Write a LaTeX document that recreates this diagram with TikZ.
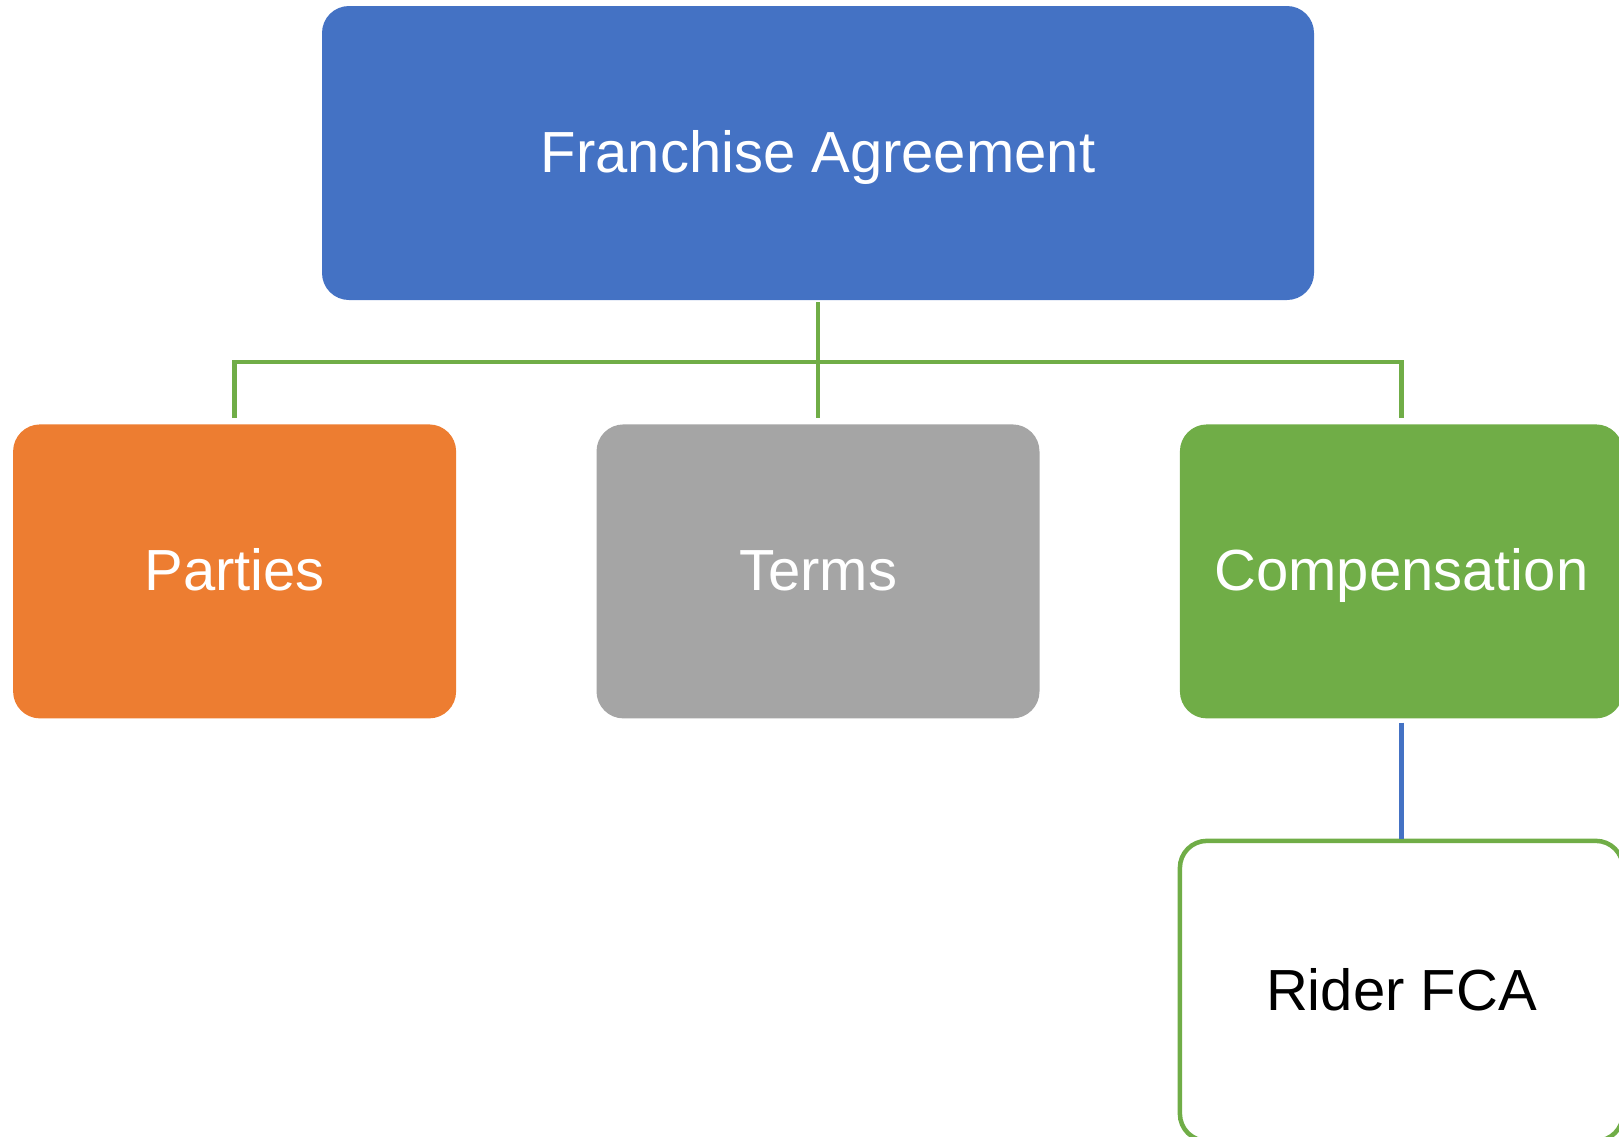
\documentclass[tikz,border=0pt]{standalone}
\usepackage{fontspec}
\setmainfont{Liberation Sans}
\usetikzlibrary{positioning}
\definecolor{fblue}{HTML}{4472C4}
\definecolor{forange}{HTML}{ED7D31}
\definecolor{fgray}{HTML}{A5A5A5}
\definecolor{fgreen}{HTML}{70AD47}
\tikzstyle{head} = [rectangle, rounded corners=27pt, minimum width=992pt, minimum height=294pt, text=white, text centered, text height=39pt, text depth=0pt, fill=fblue, font=\fontsize{58}{70}\selectfont]
\tikzstyle{part} = [rectangle, rounded corners=27pt, minimum width=443pt, minimum height=294pt, text=white, text centered, text height=39pt, text depth=0pt, font=\fontsize{58}{70}\selectfont]
\tikzstyle{sub} = [part, draw=fgreen, line width=4.5pt, minimum height=300pt, fill=white, text=black]
\tikzstyle{branch} = [line width=4.5pt, fgreen]
\tikzstyle{subbranch} = [line width=4.5pt, fblue]

\begin{document}
\begin{tikzpicture}[x=1pt, y=-1pt, node distance=140pt]
\useasboundingbox (0,0) rectangle (1619,1136);
%Top level
\node (fa) [head] at (818,153) {Franchise Agreement};
\node (terms) [part, fill=fgray, below = 124pt of fa] {Terms};
\node (parties) [part, fill=forange, left = of terms] {Parties};
\node (comp) [part, fill=fgreen, right = of terms] {Compensation};
%Rider
\node (rider) [sub, below = 120pt of comp] {Rider FCA};
\coordinate (bar) at (818,362);
\draw [branch, shorten <=2pt, shorten >=6pt] (fa.south) -- (terms.north);
\draw [branch, shorten <=6pt, shorten >=6pt] (parties.north) -- (parties.north |- bar) -- (comp.north |- bar) -- (comp.north);
\draw [subbranch, shorten <=4pt] (comp.south) -- (rider.north);
\end{tikzpicture}
\end{document}
